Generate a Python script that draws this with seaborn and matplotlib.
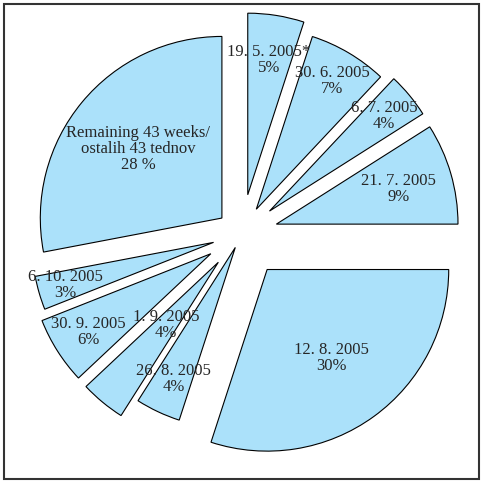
import numpy as np
import seaborn as sns
import matplotlib
matplotlib.use("Agg")
from matplotlib import pyplot as plt
from matplotlib.patches import Rectangle

sns.set_style("white")
plt.rcParams['font.family'] = ['Liberation Serif', 'DejaVu Serif']

labels = ["19. 5. 2005*\n5%", "30. 6. 2005\n7%", "6. 7. 2005\n4%", "21. 7. 2005\n9%",
          "12. 8. 2005\n30%", "26. 8. 2005\n4%", "1. 9. 2005\n4%", "30. 9. 2005\n6%",
          "6. 10. 2005\n3%", "Remaining 43 weeks/\nostalih 43 tednov\n28 %"]
shares = [5, 7, 4, 9, 30, 4, 4, 6, 3, 28]
explode = [0.22, 0.16, 0.2, 0.2, 0.24, 0.08, 0.2, 0.2, 0.16, 0.14]
label_dist = [0.75, 0.82, 0.82, 0.7, 0.6, 0.8, 0.45, 0.8, 0.85, 0.6]

fig = plt.figure(figsize=(4.83, 4.83), dpi=100)
ax = fig.add_axes([0.03, 0.04, 0.94, 0.95])
wedges, texts = ax.pie(shares, explode=explode, startangle=90, counterclock=False,
                       colors=["#abe1fa"] * len(shares),
                       wedgeprops=dict(edgecolor="black", linewidth=0.8))
for w, t, lab, d, e in zip(wedges, texts, labels, label_dist, explode):
    ang = np.deg2rad((w.theta1 + w.theta2) / 2)
    r = d + e
    ax.text(r * np.cos(ang), r * np.sin(ang), lab, ha="center", va="center",
            fontsize=12, linespacing=1.0)
ax.set_aspect("equal")
fig.add_artist(Rectangle((0.008, 0.008), 0.984, 0.984, transform=fig.transFigure,
                         fill=False, edgecolor="#333333", linewidth=1.5))
fig.savefig("out.png", dpi=100)
